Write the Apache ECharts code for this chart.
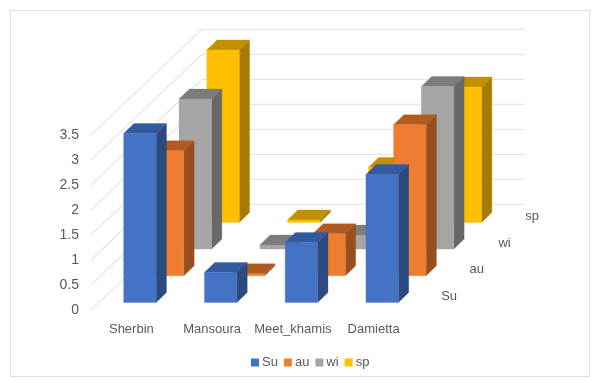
<!DOCTYPE html>
<html>
<head>
<meta charset="utf-8">
<style>html,body{margin:0;padding:0;background:#fff}#c{width:599px;height:383px}</style>
<script src="https://cdn.jsdelivr.net/npm/echarts@6/dist/echarts.min.js"></script>
</head>
<body>
<div id="c"></div>
<script>
// Seasonal values per city, one list per season
const cities = ['Sherbin', 'Mansoura', 'Meet_khamis', 'Damietta'];
const su = [3.38, 0.6, 1.2, 2.56];
const au = [2.5, 0.04, 0.84, 3.02];
const wi = [3.0, 0.08, 0.28, 3.25];
const sp = [3.45, 0.05, 1.1, 2.71];
const valueTicks = [0, 0.5, 1, 1.5, 2, 2.5, 3, 3.5];

// Oblique projection of the 3D column layout
const FONT = '"Liberation Sans Narrow", "Liberation Sans", sans-serif';
const ROW_DX = 27.7, ROW_DY = 26.7;
const BAR_W = 32.5, BAR_DX = 10.3, BAR_DY = 10;
const BAR_SHIFT_X = -7.7, BAR_SHIFT_Y = 7.5;
const BACK_DX = 111, BACK_DY = 105.7, WALL_RIGHT = 525;

function barSeries(name, values, row, front, top, side) {
  return {
    type: 'custom',
    name,
    coordinateSystem: 'cartesian2d',
    itemStyle: { color: front },
    z: 10 - row,
    data: values.map((v, i) => [i, v]),
    renderItem(params, api) {
      const i = api.value(0), v = api.value(1);
      const t = api.coord([i, v]);
      const b = api.coord([i, 0]);
      const x0 = t[0] + BAR_SHIFT_X + ROW_DX * row;
      const x1 = x0 + BAR_W;
      const yt = t[1] - BAR_SHIFT_Y - ROW_DY * row;
      const yb = b[1] - BAR_SHIFT_Y - ROW_DY * row;
      const poly = (points, fill) => ({
        type: 'polygon',
        shape: { points },
        style: { fill, stroke: fill, lineWidth: 0.3 }
      });
      return {
        type: 'group',
        children: [
          poly([[x1, yt], [x1 + BAR_DX, yt - BAR_DY], [x1 + BAR_DX, yb - BAR_DY], [x1, yb]], side),
          poly([[x0, yt], [x0 + BAR_DX, yt - BAR_DY], [x1 + BAR_DX, yt - BAR_DY], [x1, yt]], top),
          poly([[x0, yt], [x1, yt], [x1, yb], [x0, yb]], front)
        ]
      };
    }
  };
}

// Side wall and back wall gridlines, one pair per value tick
const wallSeries = {
  type: 'custom',
  silent: true,
  coordinateSystem: 'cartesian2d',
  z: 1,
  data: valueTicks.map(v => [0, v]),
  renderItem(params, api) {
    const y = api.coord([0, api.value(1)])[1];
    const x = params.coordSys.x;
    const lineStyle = { stroke: '#e6e6e6', lineWidth: 1.2, fill: 'none' };
    return {
      type: 'group',
      children: [
        { type: 'line', shape: { x1: x, y1: y, x2: x + BACK_DX, y2: y - BACK_DY }, style: lineStyle },
        { type: 'line', shape: { x1: x + BACK_DX, y1: y - BACK_DY, x2: WALL_RIGHT, y2: y - BACK_DY }, style: lineStyle }
      ]
    };
  }
};

// Series names along the depth axis
const seasons = ['Su', 'au', 'wi', 'sp'];
const depthLabels = {
  type: 'custom',
  silent: true,
  coordinateSystem: 'cartesian2d',
  z: 20,
  data: seasons.map((s, r) => [3, 0, r]),
  renderItem(params, api) {
    const r = api.value(2);
    const b = api.coord([3, 0]);
    return {
      type: 'text',
      x: b[0] + 75.5 + ROW_DX * r,
      y: b[1] - 14 - 26.5 * r,
      style: {
        text: seasons[r], fill: '#595959', font: '13px ' + FONT,
        align: 'center', verticalAlign: 'middle'
      }
    };
  }
};

const chart = echarts.init(document.getElementById('c'), null, { renderer: 'canvas' });
chart.setOption({
  animation: false,
  backgroundColor: '#fff',
  grid: { left: 91, top: 135, width: 323, height: 175, containLabel: false },
  xAxis: {
    type: 'category',
    data: cities,
    axisLine: { show: false },
    axisTick: { show: false },
    axisLabel: { color: '#595959', fontFamily: FONT, fontSize: 13, margin: 13, interval: 0 }
  },
  yAxis: {
    type: 'value',
    min: 0,
    max: 3.5,
    interval: 0.5,
    axisLine: { show: false },
    axisTick: { show: false },
    splitLine: { show: false },
    axisLabel: { color: '#595959', fontFamily: FONT, fontSize: 14, margin: 12 }
  },
  legend: {
    left: 251,
    top: 356,
    itemWidth: 8,
    itemHeight: 8,
    itemGap: 6,
    data: seasons.map(name => ({ name, icon: 'rect' })),
    textStyle: { color: '#595959', fontFamily: FONT, fontSize: 13, padding: [0, 0, 0, -2] },
    padding: 0
  },
  graphic: [{
    type: 'rect',
    silent: true,
    shape: { x: 10.5, y: 10.5, width: 579, height: 366 },
    style: { fill: 'none', stroke: '#e0e0e0', lineWidth: 1 }
  }],
  series: [
    wallSeries,
    barSeries('sp', sp, 3, '#ffc000', '#bf9000', '#a67c00'),
    barSeries('wi', wi, 2, '#a5a5a5', '#7c7c7c', '#686868'),
    barSeries('au', au, 1, '#ed7d31', '#b25a20', '#984f1f'),
    barSeries('Su', su, 0, '#4472c4', '#335a9f', '#2b4a80'),
    depthLabels
  ]
});
</script>
</body>
</html>
